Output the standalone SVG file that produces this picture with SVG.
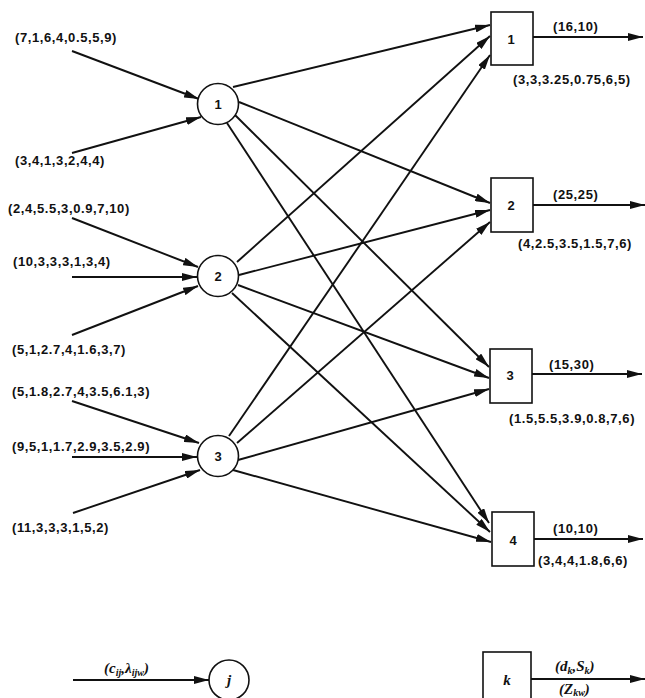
<svg xmlns="http://www.w3.org/2000/svg" width="645" height="698" viewBox="0 0 645 698">
  <style>
    .lbl { font-family: "Liberation Sans", Arial, sans-serif; font-size: 13px; font-weight: bold; letter-spacing: 0.6px; fill: #111; }
    .num { font-family: "Liberation Sans", Arial, sans-serif; font-size: 13px; font-weight: bold; fill: #111; text-anchor: middle; }
    .it { font-family: "Liberation Serif", "Times New Roman", serif; font-style: italic; font-weight: bold; font-size: 15px; fill: #111; }
    .sub { font-size: 10px; }
    .node { fill: #fff; stroke: #111; stroke-width: 1.6; }
    .edge { stroke: #111; stroke-width: 1.9; fill: none; marker-end: url(#arrow); }
  </style>
  <defs>
    <marker id="arrow" markerUnits="userSpaceOnUse" viewBox="0 0 15 8" refX="15" refY="4" markerWidth="15" markerHeight="8" orient="auto">
      <path d="M0,0 L15,4 L0,8 Z" fill="#111"/>
    </marker>
  </defs>
  <rect width="645" height="698" fill="#fff"/>

  <!-- connectors -->
  <g id="connectors">
    <!-- supplies into plants -->
    <line class="edge" x1="72" y1="51" x2="199" y2="99"/>
    <line class="edge" x1="72" y1="153" x2="201" y2="117"/>
    <line class="edge" x1="72" y1="218" x2="198" y2="267"/>
    <line class="edge" x1="72" y1="277" x2="197" y2="277"/>
    <line class="edge" x1="72" y1="335" x2="198" y2="286"/>
    <line class="edge" x1="72" y1="401" x2="199" y2="443"/>
    <line class="edge" x1="72" y1="457" x2="197" y2="457"/>
    <line class="edge" x1="73" y1="513" x2="200" y2="470"/>
    <!-- plant 1 to warehouses -->
    <line class="edge" x1="233" y1="87" x2="490" y2="25"/>
    <line class="edge" x1="239" y1="102" x2="490" y2="203"/>
    <line class="edge" x1="235" y1="115" x2="489" y2="367"/>
    <line class="edge" x1="227" y1="123" x2="489" y2="523"/>
    <!-- plant 2 to warehouses -->
    <line class="edge" x1="237" y1="262" x2="490" y2="36"/>
    <line class="edge" x1="239" y1="275" x2="490" y2="210"/>
    <line class="edge" x1="238" y1="285" x2="489" y2="378"/>
    <line class="edge" x1="232" y1="293" x2="490" y2="532"/>
    <!-- plant 3 to warehouses -->
    <line class="edge" x1="229" y1="436" x2="490" y2="55"/>
    <line class="edge" x1="237" y1="443" x2="490" y2="222"/>
    <line class="edge" x1="238" y1="460" x2="489" y2="389"/>
    <line class="edge" x1="233" y1="470" x2="491" y2="542"/>
    <!-- demand outflows -->
    <line class="edge" x1="533" y1="37" x2="643" y2="37"/>
    <line class="edge" x1="533" y1="205" x2="645" y2="205"/>
    <line class="edge" x1="532" y1="374" x2="642" y2="374"/>
    <line class="edge" x1="534" y1="539" x2="643" y2="539"/>
    <!-- key -->
    <line class="edge" x1="73" y1="680" x2="209" y2="680"/>
    <line class="edge" x1="531" y1="679" x2="645" y2="679"/>
  </g>

  <!-- supply labels -->
  <g id="supply-labels">
    <text class="lbl" x="15" y="42">(7,1,6,4,0.5,5,9)</text>
    <text class="lbl" x="15" y="165">(3,4,1,3,2,4,4)</text>
    <text class="lbl" x="8" y="213">(2,4,5.5,3,0.9,7,10)</text>
    <text class="lbl" x="13" y="266">(10,3,3,3,1,3,4)</text>
    <text class="lbl" x="12" y="354">(5,1,2.7,4,1.6,3,7)</text>
    <text class="lbl" x="12" y="396">(5,1.8,2.7,4,3.5,6.1,3)</text>
    <text class="lbl" x="12" y="451">(9,5,1,1.7,2.9,3.5,2.9)</text>
    <text class="lbl" x="12" y="532">(11,3,3,3,1,5,2)</text>
  </g>

  <!-- plants -->
  <g id="plant-1">
    <circle class="node" cx="218" cy="104" r="20.5"/>
    <text class="num" x="218" y="109">1</text>
  </g>
  <g id="plant-2">
    <circle class="node" cx="218" cy="276" r="20.5"/>
    <text class="num" x="218" y="281">2</text>
  </g>
  <g id="plant-3">
    <circle class="node" cx="218" cy="456" r="20.5"/>
    <text class="num" x="218" y="461">3</text>
  </g>

  <!-- warehouses -->
  <g id="warehouse-1">
    <rect class="node" x="491" y="12" width="42" height="53" stroke-width="2"/>
    <text class="num" x="511" y="44">1</text>
    <text class="lbl" x="553" y="31">(16,10)</text>
    <text class="lbl" x="513" y="84">(3,3,3.25,0.75,6,5)</text>
  </g>
  <g id="warehouse-2">
    <rect class="node" x="491" y="178" width="42" height="54" stroke-width="2"/>
    <text class="num" x="511" y="210">2</text>
    <text class="lbl" x="553" y="199">(25,25)</text>
    <text class="lbl" x="518" y="248">(4,2.5,3.5,1.5,7,6)</text>
  </g>
  <g id="warehouse-3">
    <rect class="node" x="490" y="349" width="42" height="54" stroke-width="2"/>
    <text class="num" x="510" y="380">3</text>
    <text class="lbl" x="549" y="369">(15,30)</text>
    <text class="lbl" x="509" y="423">(1.5,5.5,3.9,0.8,7,6)</text>
  </g>
  <g id="warehouse-4">
    <rect class="node" x="492" y="512" width="42" height="54" stroke-width="2"/>
    <text class="num" x="513" y="545">4</text>
    <text class="lbl" x="553" y="533">(10,10)</text>
    <text class="lbl" x="538" y="565">(3,4,4,1.8,6,6)</text>
  </g>

  <!-- key: plant node -->
  <g id="key-plant">
    <circle class="node" cx="229" cy="680" r="20"/>
    <text class="it" x="229" y="685" text-anchor="middle">j</text>
    <text class="it" x="104" y="673">(c<tspan class="sub" dy="3">ij</tspan><tspan dy="-3">,λ</tspan><tspan class="sub" dy="3">ijw</tspan><tspan dy="-3">)</tspan></text>
  </g>

  <!-- key: warehouse node -->
  <g id="key-warehouse">
    <rect class="node" x="483" y="652" width="48" height="60" stroke-width="2"/>
    <text class="it" x="507" y="685" text-anchor="middle">k</text>
    <text class="it" x="555" y="671">(d<tspan class="sub" dy="3">k</tspan><tspan dy="-3">,S</tspan><tspan class="sub" dy="3">k</tspan><tspan dy="-3">)</tspan></text>
    <text class="it" x="559" y="694">(Z<tspan class="sub" dy="2">kw</tspan><tspan dy="-2">)</tspan></text>
  </g>
</svg>
